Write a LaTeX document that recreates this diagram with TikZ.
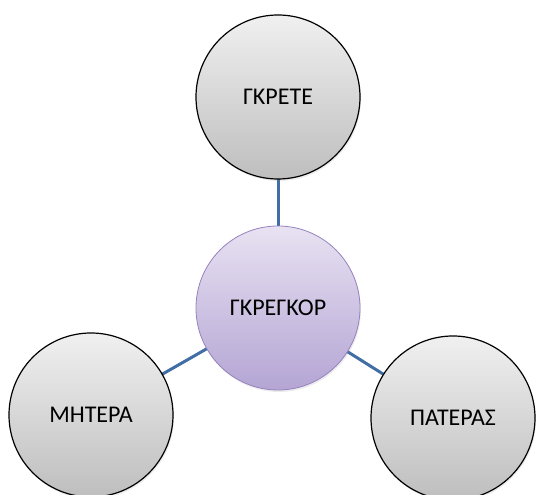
\documentclass[tikz,border=0pt]{standalone}
\usepackage{fontspec}
\setmainfont{Carlito}
\usetikzlibrary{shadows}

\begin{document}
\begin{tikzpicture}[x=1pt, y=1pt]
    % colours
    \definecolor{nodegreytop}{RGB}{240, 240, 240}
    \definecolor{nodegreybot}{RGB}{190, 190, 190}
    \definecolor{hubtop}{RGB}{232, 226, 242}
    \definecolor{hubbot}{RGB}{180, 165, 212}
    \definecolor{hubline}{RGB}{150, 130, 190}
    \definecolor{linkblue}{RGB}{65, 110, 165}

    \tikzset{
        member/.style={circle, minimum size=164pt, inner sep=0pt,
            draw=black, line width=1.2pt,
            top color=nodegreytop, bottom color=nodegreybot,
            drop shadow={opacity=0.15, shadow xshift=1pt, shadow yshift=-2pt},
            font=\fontsize{24}{28}\selectfont, text=black},
        hub/.style={member, draw=hubline, line width=0.8pt,
            top color=hubtop, bottom color=hubbot},
        link/.style={linkblue, line width=3pt}
    }

    \useasboundingbox (0, 0) rectangle (539, 495);

    % links (drawn first, under the circles)
    \coordinate (pc) at (278, 187);
    \coordinate (pt) at (278, 398);
    \coordinate (pl) at (91, 80);
    \coordinate (pr) at (453, 77);
    \draw[link] (pc) -- (pt);
    \draw[link] (pc) -- (pl);
    \draw[link] (pc) -- (pr);

    % circles
    \node[member] (grete) at (pt) {ΓΚΡΕΤΕ};
    \node[member] (mitera) at (pl) {ΜΗΤΕΡΑ};
    \node[member] (pateras) at (pr) {ΠΑΤΕΡΑΣ};
    \node[hub] (gregor) at (pc) {ΓΚΡΕΓΚΟΡ};
\end{tikzpicture}
\end{document}
